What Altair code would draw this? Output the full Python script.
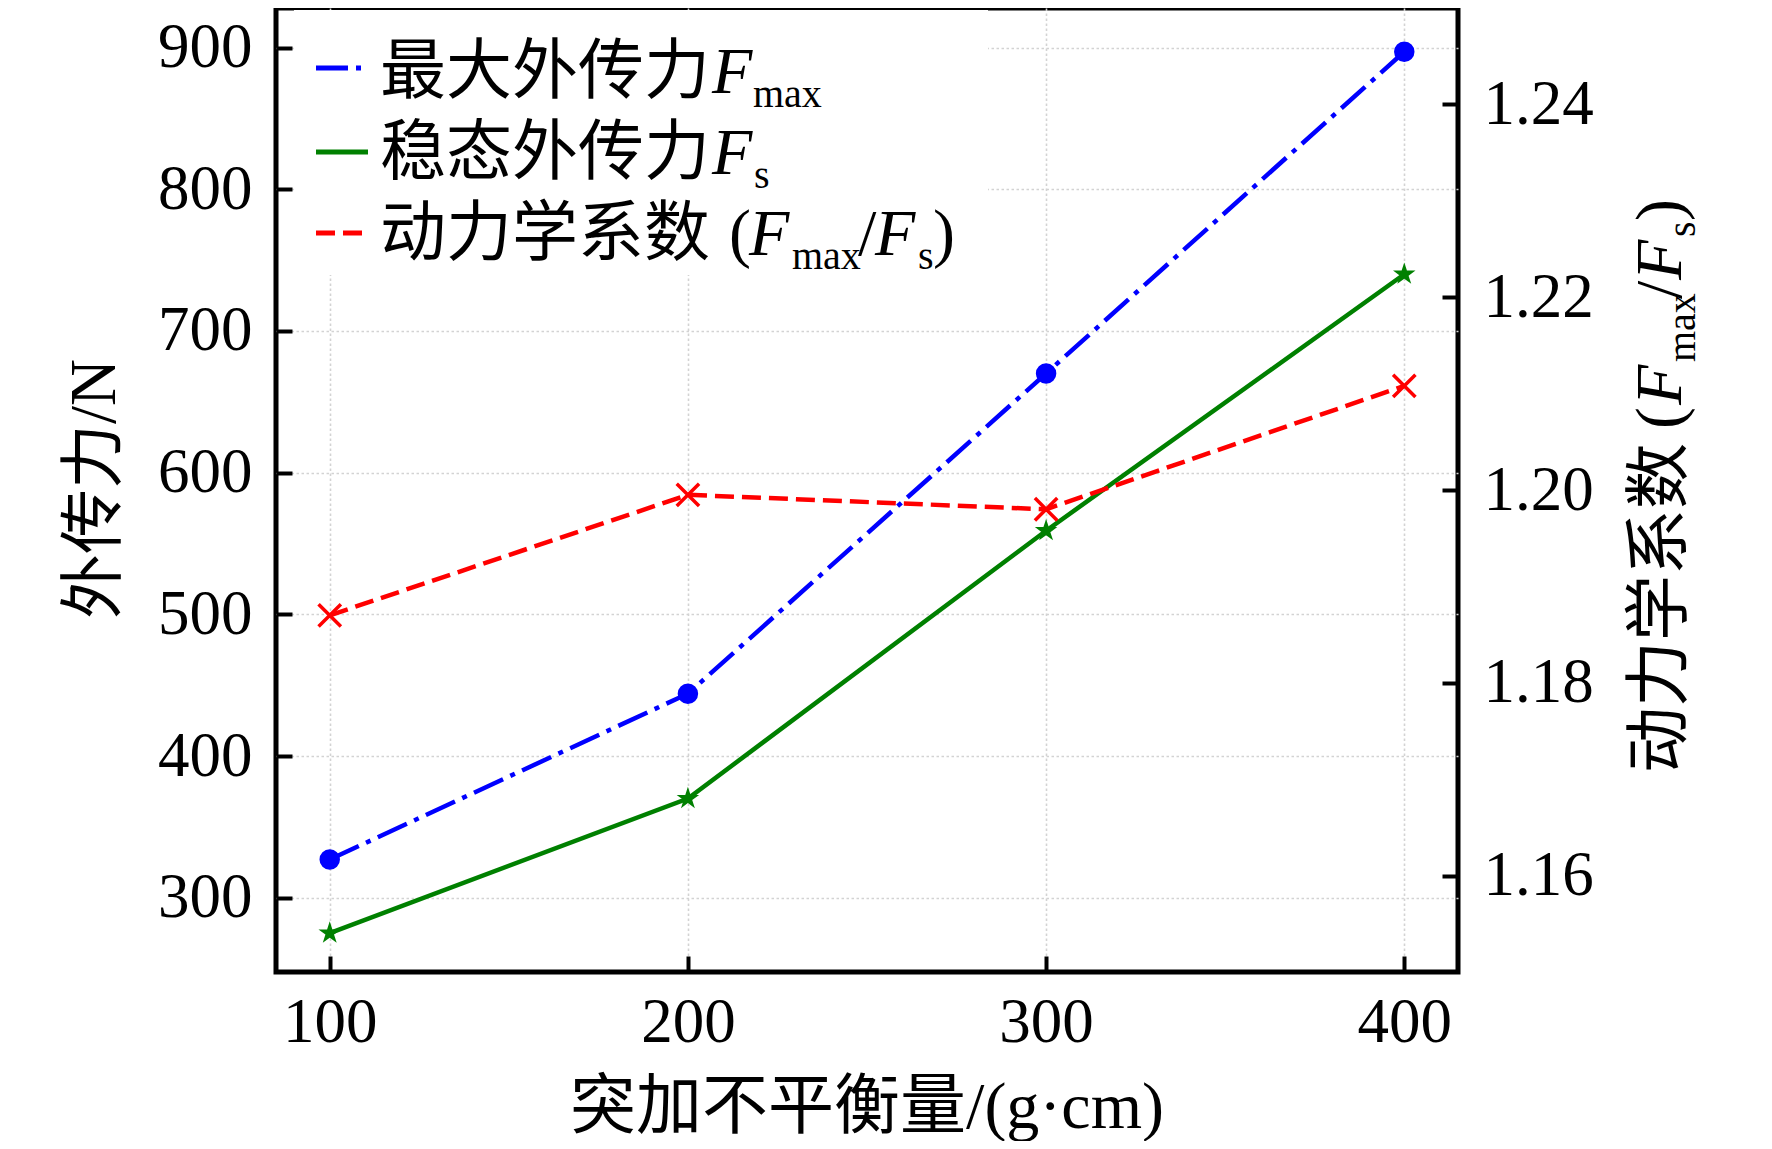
import altair as alt
import pandas as pd

# 突加不平衡量 (g·cm)
unbalance = [100, 200, 300, 400]
# 外传力 (N)
f_max = [327, 444, 670, 897]
f_s = [275, 370, 559, 740]
# 动力学系数 Fmax/Fs
ratio = [1.187, 1.1995, 1.198, 1.2108]

x_ticks = [100, 200, 300, 400]
left_ticks = [300, 400, 500, 600, 700, 800, 900]
right_ticks = [1.16, 1.18, 1.20, 1.22, 1.24]

df = pd.DataFrame({"x": unbalance, "fmax": f_max, "fs": f_s, "ratio": ratio})

W, H = 1182, 964
FONT = "Liberation Serif, Noto Sans CJK SC"
BLUE, GREEN, RED = "#0000ff", "#008000", "#ff0000"
STAR = ("M0,-1L0.2245,-0.309L0.9511,-0.309L0.3633,0.118L0.5878,0.809L0,0.382"
        "L-0.5878,0.809L-0.3633,0.118L-0.9511,-0.309L-0.2245,-0.309Z")
XMARK = "M-1,-1L1,1M-1,1L1,-1"

tick_style = dict(domain=False, tickSize=16, tickWidth=4, tickColor="black", offset=-16,
                  labelFont=FONT, labelFontSize=63, labelColor="black",
                  labelFlush=False, labelOverlap=False, title=None)
grid_style = dict(gridColor="#d3d3d3", gridDash=[2.5, 2.5], gridWidth=1.6)

x_enc = alt.X("x:Q", scale=alt.Scale(domain=[85, 415], nice=False, zero=False),
              axis=alt.Axis(values=x_ticks, format="d", grid=True, labelPadding=69,
                            labelBaseline="alphabetic", **grid_style, **tick_style))
left_axis = alt.Axis(values=left_ticks, format="d", grid=True, orient="left",
                     labelPadding=24, labelBaseline="middle", **grid_style, **tick_style)
left_scale = alt.Scale(domain=[247.6, 927.9], nice=False, zero=False)
right_axis = alt.Axis(values=right_ticks, format=".2f", grid=False, orient="right",
                      labelPadding=25, labelBaseline="middle", **tick_style)

base = alt.Chart(df)

line_fmax = base.mark_line(color=BLUE, strokeWidth=4.5, strokeDash=[32, 8, 5, 8]).encode(
    x=x_enc, y=alt.Y("fmax:Q", scale=left_scale, axis=left_axis))
pt_fmax = base.mark_point(shape="circle", filled=True, size=420, color=BLUE, opacity=1).encode(
    x=x_enc, y=alt.Y("fmax:Q", scale=left_scale, axis=left_axis))
line_fs = base.mark_line(color=GREEN, strokeWidth=4.5).encode(
    x=x_enc, y=alt.Y("fs:Q", scale=left_scale, axis=left_axis))
pt_fs = base.mark_point(shape=STAR, filled=True, size=560, color=GREEN, opacity=1).encode(
    x=x_enc, y=alt.Y("fs:Q", scale=left_scale, axis=left_axis))

left = alt.layer(line_fmax, pt_fmax, line_fs, pt_fs)

r_scale = alt.Scale(domain=[1.15, 1.25], nice=False, zero=False)
line_r = base.mark_line(color=RED, strokeWidth=4.5, strokeDash=[19, 8]).encode(
    x=x_enc, y=alt.Y("ratio:Q", scale=r_scale, axis=right_axis))
pt_r = base.mark_point(shape=XMARK, filled=False, size=500, strokeWidth=3.5, color=RED, opacity=1).encode(
    x=x_enc, y=alt.Y("ratio:Q", scale=r_scale, axis=right_axis))
right = alt.layer(line_r, pt_r)

one = alt.Data(values=[{"k": 0}])


def txt(s, x, y, size=66, italic=False, angle=0, align="left"):
    return alt.Chart(one).mark_text(
        text=s, font=FONT, fontSize=size, fontStyle="italic" if italic else "normal",
        angle=angle, align=align, baseline="alphabetic", color="black"
    ).encode(x=alt.value(x), y=alt.value(y))


def seg(color, y, dash=None):
    kw = dict(color=color, strokeWidth=5, strokeCap="butt")
    if dash:
        kw["strokeDash"] = dash
    return alt.Chart(one).mark_rule(**kw).encode(
        x=alt.value(40), x2=alt.value(92), y=alt.value(y))


SUB = 40
legend_box = alt.Chart(one).mark_rect(color="white").encode(
    x=alt.value(18), x2=alt.value(712), y=alt.value(2), y2=alt.value(267))
legend = [
    legend_box,
    seg(BLUE, 60, [32, 8, 5, 8]), seg(GREEN, 144), seg(RED, 225, [19, 8]),
    txt("最大外传力", 104, 85), txt("F", 436, 85, italic=True), txt("max", 477, 99, size=SUB),
    txt("稳态外传力", 104, 166), txt("F", 436, 166, italic=True), txt("s", 478, 180, size=SUB),
    txt("动力学系数", 104, 247), txt("(", 453, 247), txt("F", 473, 247, italic=True),
    txt("max", 516, 261, size=SUB), txt("/", 582, 247), txt("F", 599, 247, italic=True),
    txt("s", 642, 261, size=SUB), txt(")", 657, 247),
]

# axis titles
RX, RXS = 1405, 1419
titles = [
    txt("外传力/N", -161, 481, size=65, angle=270, align="center"),
    txt("突加不平衡量/(g·cm)", W / 2, 1120, align="center"),
    txt("动力学系数", RX, 765, angle=270),
    txt("(", RX, 421, angle=270),
    txt("F", RX, 397, italic=True, angle=270),
    txt("max", RXS, 354, size=SUB, angle=270),
    txt("/", RX, 291, angle=270),
    txt("F", RX, 272, italic=True, angle=270),
    txt("s", RXS, 229, size=SUB, angle=270),
    txt(")", RX, 213, angle=270),
]

chart = alt.layer(left, right, *legend, *titles).resolve_scale(
    y="independent"
).properties(
    width=W, height=H,
    autosize=alt.AutoSizeParams(type="none"),
    padding={"left": 268, "top": 0, "right": 306, "bottom": 169},
    background="white",
).configure_view(stroke="black", strokeWidth=5)

chart.save("out.html", embed_options={"renderer": "svg", "actions": False})
